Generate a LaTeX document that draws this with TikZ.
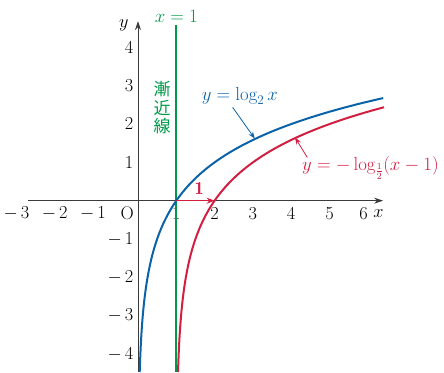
\RequirePackage{fix-cm}
\documentclass[tikz,border=0pt]{standalone}
\usepackage{fontspec}
\newfontfamily\cjk{Noto Sans CJK JP}
\usetikzlibrary{arrows.meta}
\definecolor{cblue}{HTML}{0A62A8}
\definecolor{cred}{HTML}{D21E41}
\definecolor{cgreen}{HTML}{00994A}
\definecolor{caxis}{HTML}{3A3A3A}
\tikzset{
  axis/.style={draw=caxis, line width=0.9pt, -{Stealth[length=9pt,width=6pt]}},
  curve/.style={line width=2pt},
  tick/.style={inner sep=0pt, text=black},
  ptr/.style={line width=0.8pt, -{Stealth[length=7pt,width=5pt]}},
  eqlabel/.style={inner sep=0pt, font=\fontsize{18.8}{22}\selectfont},
}
\begin{document}
\begin{tikzpicture}[x=38.3pt,y=38.3pt,font=\fontsize{18.3}{21}\selectfont]
\useasboundingbox (-3.603,-4.473) rectangle (7.990,5.240);
% axes
\coordinate (xs) at (-2.87,0);
\coordinate (xe) at (6.40,0);
\coordinate (ys) at (0,-4.473);
\coordinate (ye) at (0,4.69);
\draw[axis] (xs) -- (xe);
\draw[axis] (ys) -- (ye);
\node[tick] (xl) at (6.28,-0.34) {$x$};
\node[tick] (yl) at (-0.37,4.58) {$y$};
\node[tick] (O) at (-0.28,-0.32) {O};
% x tick labels
\foreach \v in {1,...,5} \node[tick] (xt\v) at (\v,-0.34) {$\v$};
\node[tick] (xt6) at (5.89,-0.34) {$6$};
\foreach \v in {1,2,3} \node[tick] (xn\v) at (-\v+0.05,-0.34) {\llap{$-$\,}$\v$};
% y tick labels
\foreach \v in {1,...,4} \node[tick, anchor=east] (yt\v) at (-0.12,\v) {$\v$};
\foreach \v in {1,...,4} \node[tick, anchor=east] (yn\v) at (-0.12,-\v) {$-\,\v$};
% asymptote
\coordinate (gt) at (1,4.58);
\coordinate (gb) at (1,-4.473);
\draw[cgreen, line width=1.9pt] (gt) -- (gb);
\node[text=cgreen, eqlabel] (xeq) at (1,4.80) {$x=1$};
\node[text=cgreen, inner sep=0pt, align=center, font=\cjk\fontsize{17}{18.5}\selectfont] (zk) at (0.63,2.42) {漸\\近\\線};
% curves
\draw[cblue, curve] plot[domain=-4.473:2.68, samples=120, smooth] ({2^\x},\x);
\draw[cred, curve] plot[domain=-4.473:2.44, samples=120, smooth] ({1+2^\x},\x);
% shift arrow
\coordinate (p1) at (1,0);
\coordinate (p2) at (2,0);
\draw[cred, line width=1.1pt, -{Stealth[length=8pt,width=6pt]}] (p1) -- (p2);
\node[text=cred, inner sep=0pt] (one) at (1.6,0.33) {$\mathbf{1}$};
% labels
\node[text=cblue, eqlabel] (bl) at (2.66,2.74) {$y=\log_2 x$};
\coordinate (bt) at (3.05,1.62);
\draw[cblue, ptr] (2.47,2.44) -- (bt);
\node[text=cred, eqlabel] (rl) at (6.07,0.86) {$y=-\log_{\frac{1}{2}}(x-1)$};
\coordinate (rt) at (4.10,1.65);
\draw[cred, ptr] (4.42,1.13) -- (rt);
\end{tikzpicture}
\end{document}
